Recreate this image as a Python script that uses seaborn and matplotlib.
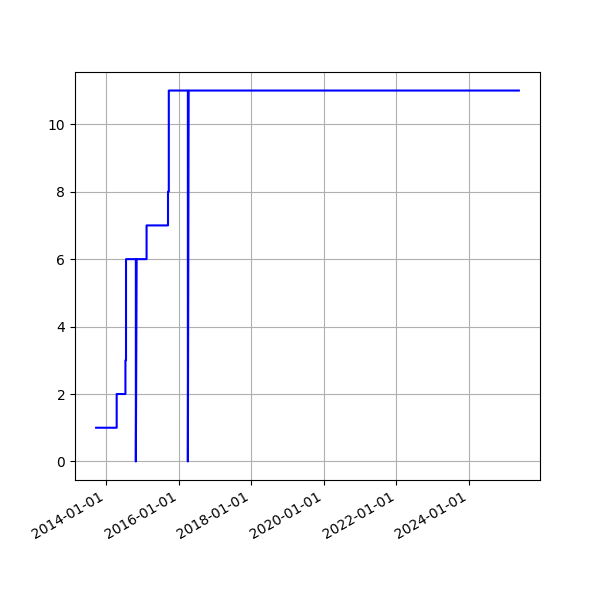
import numpy as np
import pandas as pd
import matplotlib
matplotlib.use("Agg")
import matplotlib.pyplot as plt
import matplotlib.dates as mdates
import seaborn as sns

# step points (date, count)
dates = ["2013-09-20", "2014-04-15", "2014-04-15", "2014-07-12", "2014-07-12",
         "2014-07-18", "2014-07-18", "2014-10-25", "2014-10-25", "2014-11-02",
         "2015-02-10", "2015-02-10", "2015-09-14", "2015-09-14", "2015-09-22",
         "2015-09-22", "2016-04-01", "2016-04-01", "2016-04-09", "2025-05-18"]
counts = [1, 1, 2, 2, 3,
          3, 6, 6, 0, 6,
          6, 7, 7, 8, 8,
          11, 11, 0, 11, 11]

df = pd.DataFrame({"date": pd.to_datetime(dates), "count": counts})

fig = plt.figure(figsize=(6, 6), dpi=100)
ax = sns.lineplot(data=df, x="date", y="count", color="blue", sort=False,
                  estimator=None, linewidth=1.5)
ax.set_xlabel("")
ax.set_ylabel("")
ax.grid(True)
ax.xaxis.set_major_locator(mdates.YearLocator(2))
ax.xaxis.set_major_formatter(mdates.DateFormatter("%Y-%m-%d"))
fig.autofmt_xdate()
plt.savefig("out.png", dpi=100)
